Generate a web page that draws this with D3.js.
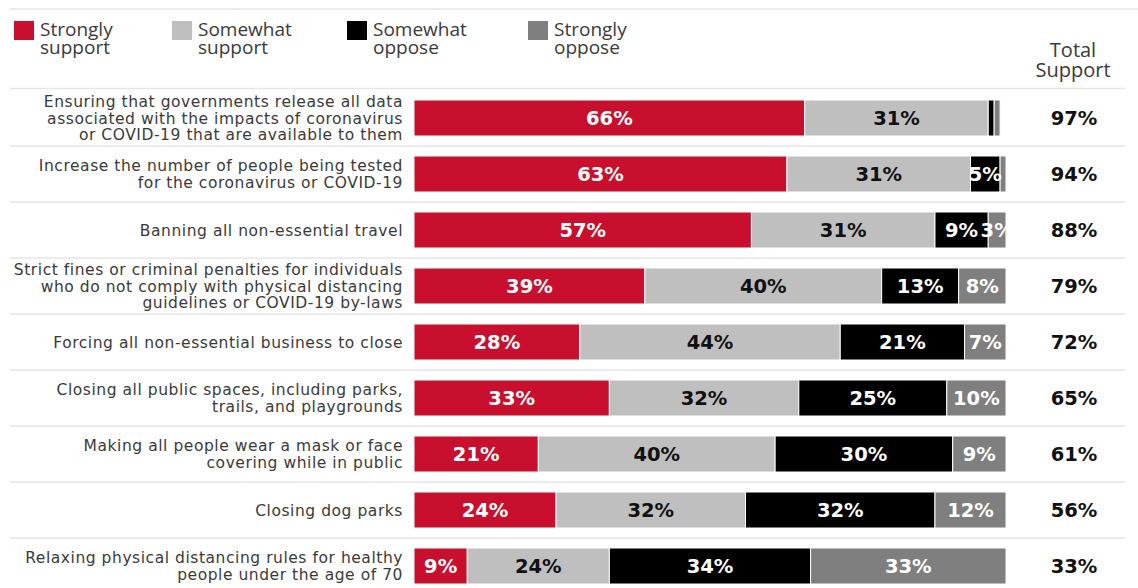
<!DOCTYPE html>
<html>
<head>
<meta charset="utf-8">
<script src="https://cdn.jsdelivr.net/npm/d3@7"></script>
<style>
  body { margin: 0; background: #fff; }
  svg text { font-family: 'Open Sans', sans-serif; }
</style>
</head>
<body>
<div id="chart"></div>
<script>
const categories = [
  'Ensuring that governments release all data\nassociated with the impacts of coronavirus\nor COVID-19 that are available to them',
  'Increase the number of people being tested\nfor the coronavirus or COVID-19',
  'Banning all non-essential travel',
  'Strict fines or criminal penalties for individuals\nwho do not comply with physical distancing\nguidelines or COVID-19 by-laws',
  'Forcing all non-essential business to close',
  'Closing all public spaces, including parks,\ntrails, and playgrounds',
  'Making all people wear a mask or face\ncovering while in public',
  'Closing dog parks',
  'Relaxing physical distancing rules for healthy\npeople under the age of 70'
]
const seriesNames = ['Strongly\nsupport', 'Somewhat\nsupport', 'Somewhat\noppose', 'Strongly\noppose']
const stronglySupport = [66, 63, 57, 39, 28, 33, 21, 24, 9]
const somewhatSupport = [31, 31, 31, 40, 44, 32, 40, 32, 24]
const somewhatOppose = [1, 5, 9, 13, 21, 25, 30, 32, 34]
const stronglyOppose = [1, 1, 3, 8, 7, 10, 9, 12, 33]
const totalSupport = [97, 94, 88, 79, 72, 65, 61, 56, 33]

const colors = ['#c8102e', '#bfbfbf', '#000000', '#7f7f7f']
const labelColors = ['#fff', '#111', '#fff', '#fff']

const width = 1138
const height = 588

const svg = d3.select('#chart')
  .append('svg')
  .attr('width', width)
  .attr('height', height)

const rows = categories.map((c, i) => ({
  cat: c,
  vals: [stronglySupport[i], somewhatSupport[i], somewhatOppose[i], stronglyOppose[i]],
  total: totalSupport[i]
}))

const x = d3.scaleLinear().domain([0, 100]).range([414, 1006])
const y = d3.scaleBand().domain(categories).range([90, 594]).paddingInner(0).paddingOuter(0)
const barH = 36

// clip so value labels don't run past the end of the bar
svg.append('defs').append('clipPath')
  .attr('id', 'barClip')
  .append('rect')
  .attr('x', x(0)).attr('y', -5)
  .attr('width', x(100) - x(0)).attr('height', barH + 10)

// top rule and header rule
svg.append('line')
  .attr('x1', 10).attr('x2', width).attr('y1', 9).attr('y2', 9)
  .attr('stroke', '#e6e6e6').attr('stroke-width', 1.5)
svg.append('line')
  .attr('x1', 10).attr('x2', 1125).attr('y1', 88.5).attr('y2', 88.5)
  .attr('stroke', '#e6e6e6').attr('stroke-width', 1.5)

// row separators
svg.selectAll('.sep')
  .data(categories.slice(1))
  .enter().append('line')
  .attr('class', 'sep')
  .attr('x1', 10).attr('x2', 1125)
  .attr('y1', d => y(d)).attr('y2', d => y(d))
  .attr('stroke', '#e6e6e6').attr('stroke-width', 1.5)

// legend
const legendX = [14, 172, 347, 528]
const legend = svg.selectAll('.legend')
  .data(seriesNames)
  .enter().append('g')
  .attr('class', 'legend')
  .attr('transform', (d, i) => `translate(${legendX[i]},21)`)
legend.append('rect')
  .attr('width', 20).attr('height', 19)
  .attr('fill', (d, i) => colors[i])
legend.append('text')
  .attr('x', 26)
  .attr('y', 15)
  .attr('font-size', 19)
  .attr('fill', '#3a3a3a')
  .selectAll('tspan')
  .data(d => d.split('\n'))
  .enter().append('tspan')
  .attr('x', 26)
  .attr('dy', (d, i) => i === 0 ? 0 : 18)
  .text(d => d)

// total support header
svg.append('text')
  .attr('x', 1073).attr('y', 57)
  .attr('text-anchor', 'middle')
  .attr('font-size', 20)
  .attr('fill', '#3a3a3a')
  .selectAll('tspan')
  .data(['Total', 'Support'])
  .enter().append('tspan')
  .attr('x', 1073)
  .attr('dy', (d, i) => i === 0 ? 0 : 20)
  .text(d => d)

const rowG = svg.selectAll('.row')
  .data(rows)
  .enter().append('g')
  .attr('class', 'row')
  .attr('transform', d => `translate(0,${y(d.cat) + (y.bandwidth() - barH) / 2})`)

// category labels
rowG.append('text')
  .attr('text-anchor', 'end')
  .attr('font-size', 15.5)
  .attr('letter-spacing', 0.55)
  .style('font-family', "'DejaVu Sans', sans-serif")
  .attr('fill', '#3a3a3a')
  .each(function (d) {
    const lines = d.cat.split('\n')
    const lh = 16.5
    const start = barH / 2 - (lines.length - 1) * lh / 2 + 5.5
    d3.select(this).selectAll('tspan')
      .data(lines)
      .enter().append('tspan')
      .attr('x', 403)
      .attr('y', (l, i) => start + i * lh)
      .text(l => l)
  })

// stacked segments
rowG.each(function (d) {
  let acc = 0
  const segs = d.vals.map((v, i) => {
    const s = { v, i, x0: acc, x1: acc + v }
    acc += v
    return s
  })
  const g = d3.select(this)
  g.selectAll('rect')
    .data(segs)
    .enter().append('rect')
    .attr('x', s => x(s.x0))
    .attr('width', s => x(s.x1) - x(s.x0))
    .attr('height', barH)
    .attr('fill', s => colors[s.i])
    .attr('stroke', '#fff')
    .attr('stroke-width', 1)
  g.append('g')
    .attr('clip-path', 'url(#barClip)')
    .selectAll('.val')
    .data(segs.filter(s => s.v >= 3))
    .enter().append('text')
    .attr('class', 'val')
    .attr('x', s => (x(s.x0) + x(s.x1)) / 2)
    .attr('y', barH / 2 + 7)
    .attr('text-anchor', 'middle')
    .attr('font-size', 19.5)
    .attr('font-weight', 'bold')
    .style('font-family', "'DejaVu Sans', sans-serif")
    .attr('fill', s => labelColors[s.i])
    .text(s => s.v + '%')
})

// totals
rowG.append('text')
  .attr('x', 1074)
  .attr('y', barH / 2 + 7)
  .attr('text-anchor', 'middle')
  .attr('font-size', 19.5)
  .attr('font-weight', 'bold')
  .style('font-family', "'DejaVu Sans', sans-serif")
  .attr('fill', '#111')
  .text(d => d.total + '%')
</script>
</body>
</html>
